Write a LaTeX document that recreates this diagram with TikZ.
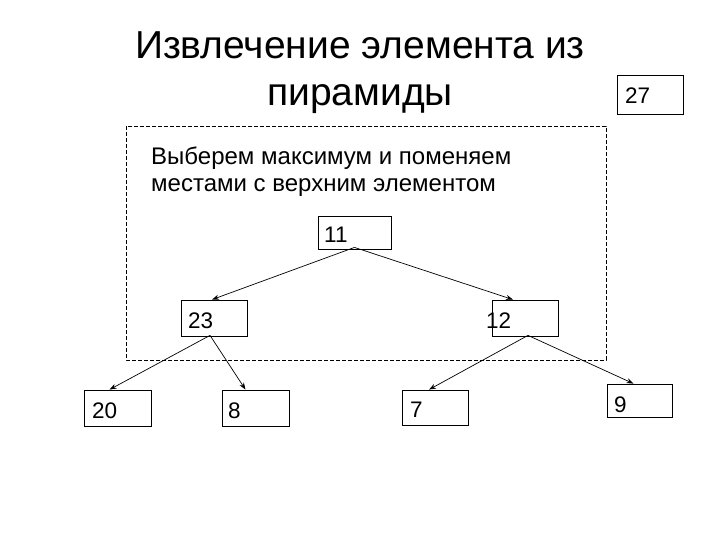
\documentclass[tikz,border=0pt]{standalone}
\usepackage{fontspec}
\setmainfont{Liberation Sans}
\usetikzlibrary{arrows.meta}
\begin{document}
\begin{tikzpicture}[x=1pt,y=-1pt,
  box/.style={draw,line width=0.8pt,inner sep=0pt},
  lbl/.style={anchor=base west,inner sep=0pt,font=\fontsize{22.5}{26}\selectfont},
  ttl/.style={anchor=base,inner sep=0pt,font=\fontsize{39}{44}\selectfont},
  txt/.style={anchor=base west,inner sep=0pt,font=\fontsize{24}{28}\selectfont},
  arr/.style={line width=0.7pt,-{Stealth[length=7pt,width=5pt]}}]
\useasboundingbox (0,0) rectangle (720,540);
% title
\node[ttl] (t1) at (360,59) {Извлечение элемента из};
\node[ttl] (t2) at (360,106) {пирамиды};
% dashed frame
\draw[line width=0.8pt,dash pattern=on 4pt off 2pt] (126,126) rectangle (606,360);
\node[txt] (d1) at (151,165) {Выберем максимум и поменяем};
\node[txt] (d2) at (151,192) {местами с верхним элементом};
% boxes
\node[box,minimum width=73pt,minimum height=33pt] (b11) at (354.5,232.5) {};
\node[box,minimum width=66pt,minimum height=36pt] (b23) at (214,318) {};
\node[box,minimum width=66pt,minimum height=36pt] (b12) at (525,318) {};
\node[box,minimum width=67pt,minimum height=36pt] (b20) at (117.5,408) {};
\node[box,minimum width=67pt,minimum height=36pt] (b8) at (255.5,408) {};
\node[box,minimum width=66pt,minimum height=35pt] (b7) at (435,407.5) {};
\node[box,minimum width=65pt,minimum height=33pt] (b9) at (639.5,400.5) {};
\node[box,minimum width=66pt,minimum height=39pt] (b27) at (650,94.5) {};
% labels
\node[lbl] (l11) at (324,243) {11};
\node[lbl] (l23) at (188,328) {23};
\node[lbl] (l12) at (486,328) {12};
\node[lbl] (l20) at (92,418) {20};
\node[lbl] (l8) at (228,418) {8};
\node[lbl] (l7) at (410,417) {7};
\node[lbl] (l9) at (614,412) {9};
\node[lbl] (l27) at (625,104) {27};
% edges
\draw[arr] ([yshift=2pt]b11.south) -- ([xshift=-2pt]b23.north);
\draw[arr] ([yshift=2pt]b11.south) -- ([xshift=-12pt]b12.north);
\draw[arr] ([xshift=-4pt,yshift=1pt]b23.south) -- ([xshift=-8pt]b20.north);
\draw[arr] ([xshift=-4pt,yshift=1pt]b23.south) -- ([xshift=-10pt]b8.north);
\draw[arr] ([xshift=3pt,yshift=1pt]b12.south) -- ([xshift=-6pt]b7.north);
\draw[arr] ([xshift=3pt,yshift=1pt]b12.south) -- ([xshift=-6pt]b9.north);
\end{tikzpicture}
\end{document}
